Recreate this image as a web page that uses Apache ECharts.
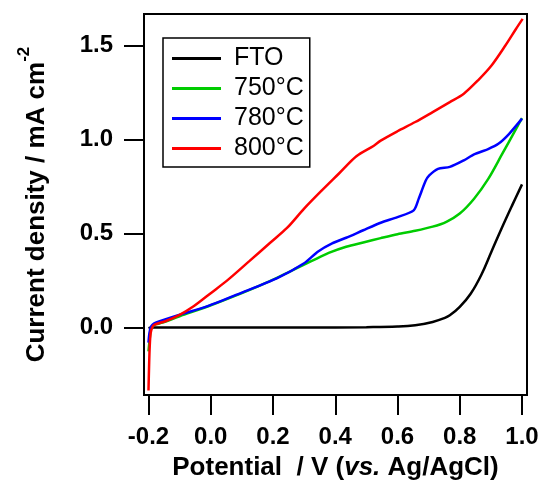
<!DOCTYPE html>
<html>
<head>
<meta charset="utf-8">
<script src="https://cdn.jsdelivr.net/npm/echarts@6/dist/echarts.min.js"></script>
<style>
  html, body { margin: 0; padding: 0; background: #fff; }
  #chart { width: 542px; height: 486px; }
</style>
</head>
<body>
<div id="chart"></div>
<script>
// ---- data ----
const seriesNames = ['FTO', '750°C', '780°C', '800°C'];
const xTicks = [-0.2, 0.0, 0.2, 0.4, 0.6, 0.8, 1.0];
const yTicks = [0.0, 0.5, 1.0, 1.5];

const ftoX = [-0.2, -0.19, 0.0, 0.3, 0.5, 0.6, 0.657, 0.713, 0.75, 0.768, 0.8, 0.835, 0.869, 0.902, 0.935, 0.969, 1.0];
const ftoY = [-0.003, 0.0, 0.0, 0.0, 0.002, 0.005, 0.012, 0.03, 0.05, 0.065, 0.11, 0.18, 0.28, 0.405, 0.53, 0.653, 0.762];

const g750X = [-0.2, -0.196, -0.192, -0.186, -0.175, -0.155, -0.1, -0.01, 0.1, 0.19, 0.267, 0.323, 0.379, 0.435, 0.49, 0.546, 0.6, 0.657, 0.713, 0.757, 0.8, 0.846, 0.891, 0.935, 0.98, 1.0];
const g750Y = [-0.127, -0.06, -0.01, 0.008, 0.018, 0.026, 0.06, 0.112, 0.183, 0.247, 0.309, 0.353, 0.397, 0.43, 0.453, 0.476, 0.497, 0.515, 0.537, 0.563, 0.607, 0.686, 0.79, 0.92, 1.055, 1.115];

const b780X = [-0.2, -0.197, -0.193, -0.187, -0.175, -0.1, -0.01, 0.1, 0.212, 0.3, 0.345, 0.39, 0.435, 0.49, 0.546, 0.6, 0.652, 0.668, 0.69, 0.702, 0.73, 0.768, 0.813, 0.846, 0.891, 0.924, 0.958, 1.0];
const b780Y = [-0.08, -0.03, 0.0, 0.015, 0.027, 0.068, 0.114, 0.186, 0.262, 0.342, 0.405, 0.448, 0.478, 0.518, 0.558, 0.588, 0.624, 0.685, 0.78, 0.81, 0.845, 0.855, 0.89, 0.922, 0.95, 0.978, 1.03, 1.112];

const r800X = [-0.2, -0.198, -0.196, -0.193, -0.188, -0.18, -0.144, -0.1, -0.055, 0.0, 0.056, 0.123, 0.19, 0.245, 0.3, 0.357, 0.412, 0.468, 0.524, 0.546, 0.6, 0.657, 0.713, 0.768, 0.813, 0.858, 0.902, 0.946, 0.98, 1.002];
const r800Y = [-0.335, -0.2, -0.1, -0.03, 0.0, 0.015, 0.035, 0.068, 0.113, 0.183, 0.255, 0.352, 0.45, 0.53, 0.633, 0.73, 0.82, 0.912, 0.968, 0.995, 1.045, 1.094, 1.147, 1.2, 1.245, 1.315, 1.395, 1.5, 1.588, 1.643];

const colors = ['#000000', '#00cc00', '#0000ff', '#ff0000'];
const smoothness = [0.4, 0.3, 0.25, 0.3];
// ----------------------------------------

function pairs(xs, ys) { return xs.map((x, i) => [x, ys[i]]); }
const allData = [pairs(ftoX, ftoY), pairs(g750X, g750Y), pairs(b780X, b780Y), pairs(r800X, r800Y)];

const FONT = "'Liberation Sans', Arial, Helvetica, sans-serif";

const chart = echarts.init(document.getElementById('chart'), null, { renderer: 'canvas' });
chart.setOption({
  animation: false,
  backgroundColor: '#ffffff',
  grid: { left: 144, right: 15, top: 14, bottom: 88, show: true, borderColor: '#000', borderWidth: 2, backgroundColor: 'transparent' },
  legend: {
    orient: 'vertical', left: 163, top: 38,
    data: seriesNames,
    icon: 'rect', itemWidth: 49, itemHeight: 3, itemGap: 5,
    borderColor: '#000', borderWidth: 1.5, padding: [8, 6, 6, 9],
    textStyle: { fontFamily: FONT, fontSize: 25, color: '#000', lineHeight: 25, padding: [0, 0, 0, 8] }
  },
  xAxis: {
    type: 'value', min: -0.2144, max: 1.016,
    name: '{a|Potential  / V (}{i|vs.}{a| Ag/AgCl)}',
    nameLocation: 'middle', nameGap: 60,
    nameTextStyle: { rich: {
      a: { fontFamily: FONT, fontSize: 26, fontWeight: 'bold', color: '#000' },
      i: { fontFamily: FONT, fontSize: 26, fontWeight: 'bold', fontStyle: 'italic', color: '#000' }
    } },
    axisLine: { show: false, onZero: false },
    axisTick: { show: true, inside: false, length: 20, lineStyle: { color: '#000', width: 2 }, customValues: xTicks },
    axisLabel: { show: true, margin: 30, customValues: xTicks, formatter: v => v.toFixed(1),
      fontFamily: FONT, fontSize: 24, fontWeight: 'bold', color: '#000' },
    splitLine: { show: false }
  },
  yAxis: {
    type: 'value', min: -0.359, max: 1.669,
    name: '{a|Current density / mA cm}{s|-2}',
    nameLocation: 'middle', nameGap: 94, nameRotate: 90,
    nameTextStyle: { rich: {
      a: { fontFamily: FONT, fontSize: 26, fontWeight: 'bold', color: '#000', lineHeight: 34, verticalAlign: 'bottom' },
      s: { fontFamily: FONT, fontSize: 17, fontWeight: 'bold', color: '#000', lineHeight: 34, verticalAlign: 'top', padding: [0, 0, 12, 0] }
    } },
    axisLine: { show: false, onZero: false },
    axisTick: { show: true, inside: false, length: 20, lineStyle: { color: '#000', width: 2 }, customValues: yTicks },
    axisLabel: { show: true, margin: 31, customValues: yTicks, formatter: v => v.toFixed(1),
      fontFamily: FONT, fontSize: 24, fontWeight: 'bold', color: '#000' },
    splitLine: { show: false }
  },
  series: seriesNames.map((n, i) => ({
    name: n, type: 'line', data: allData[i], symbol: 'none', smooth: smoothness[i],
    clip: true,
    lineStyle: { color: colors[i], width: 2.5 },
    itemStyle: { color: colors[i] },
    z: i + 2
  }))
});
</script>
</body>
</html>
